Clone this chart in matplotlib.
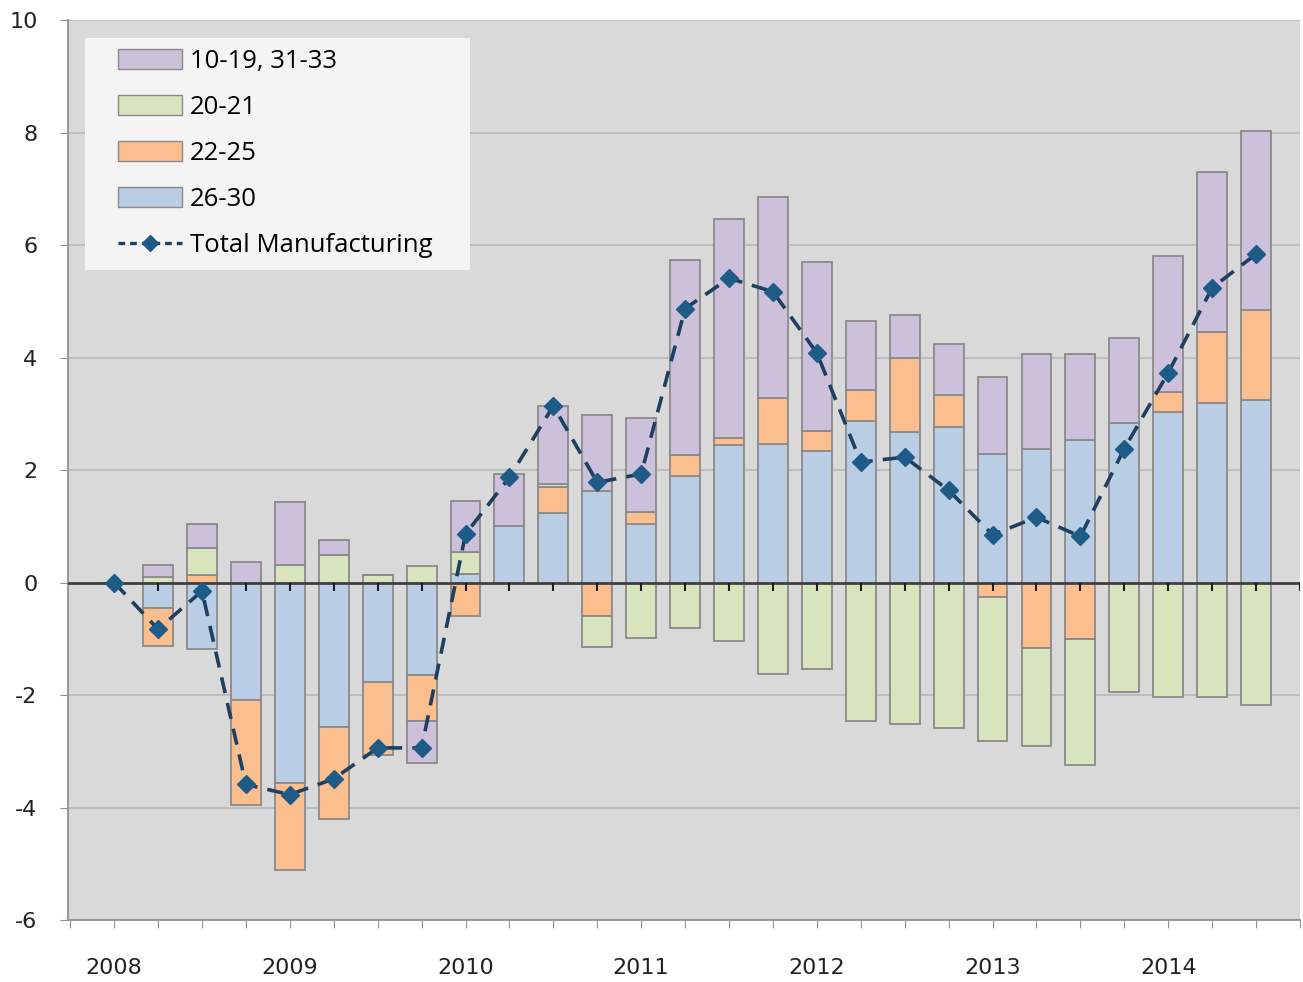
import numpy as np
import matplotlib.pyplot as plt
from matplotlib.patches import Patch, Rectangle
from matplotlib.lines import Line2D

plt.rcParams['axes.unicode_minus'] = False

# quarterly contributions, 2008Q1 .. 2014Q3
years = ['2008', '2009', '2010', '2011', '2012', '2013', '2014']
s26_30 = [0, -0.45, -1.19, -2.08, -3.56, -2.56, -1.76, -1.65, 0.15, 1.01, 1.24, 1.63, 1.04, 1.90,
          2.44, 2.46, 2.33, 2.88, 2.68, 2.77, 2.29, 2.38, 2.53, 2.84, 3.03, 3.20, 3.24]
s22_25 = [0, -0.67, 0.13, -1.87, -1.55, -1.65, -1.30, -0.81, -0.59, 0, 0.45, -0.59, 0.21, 0.36,
          0.13, 0.82, 0.36, 0.54, 1.32, 0.56, -0.25, -1.16, -1.00, 0, 0.35, 1.26, 1.60]
s20_21 = [0, 0.10, 0.48, 0, 0.31, 0.49, 0.13, 0.29, 0.39, 0, 0.06, -0.56, -0.98, -0.80,
          -1.04, -1.63, -1.54, -2.46, -2.51, -2.58, -2.57, -1.74, -2.25, -1.94, -2.03, -2.03, -2.17]
s10_19 = [0, 0.21, 0.43, 0.37, 1.13, 0.27, 0, -0.74, 0.91, 0.92, 1.39, 1.35, 1.67, 3.47,
          3.89, 3.58, 3.00, 1.23, 0.75, 0.91, 1.37, 1.69, 1.54, 1.51, 2.43, 2.84, 3.19]
total = [0, -0.83, -0.15, -3.59, -3.77, -3.49, -2.94, -2.94, 0.86, 1.87, 3.14, 1.78, 1.93, 4.87,
         5.41, 5.17, 4.08, 2.14, 2.23, 1.64, 0.85, 1.16, 0.82, 2.38, 3.73, 5.24, 5.84]

series = [('26-30', s26_30, '#b9cde5'),
          ('22-25', s22_25, '#fbbf8f'),
          ('20-21', s20_21, '#d7e4bd'),
          ('10-19, 31-33', s10_19, '#ccc0da')]

n = len(total)
x = np.arange(n)

fig = plt.figure(figsize=(13.03, 9.82), dpi=100)
ax = fig.add_axes([0.0522, 0.0631, 0.9455, 0.9165])
ax.set_facecolor('#d9d9d9')

pos = np.zeros(n)
neg = np.zeros(n)
for name, vals, col in series:
    v = np.array(vals, dtype=float)
    bottom = np.where(v >= 0, pos, neg)
    ax.bar(x, v, 0.68, bottom=bottom, color=col, edgecolor='#8a8a8a', linewidth=1.3, zorder=2)
    pos += np.where(v >= 0, v, 0)
    neg += np.where(v < 0, v, 0)

# zero axis with ticks at each category
ax.axhline(0, color='#404040', lw=2.0, zorder=3)
ax.vlines(np.arange(0, n + 1), -0.15, 0, color='#202020', lw=1.5, zorder=3)

ax.plot(x, total, color='#1f3f60', lw=2.6, ls=(0, (4.5, 2.8)), marker='D', markersize=9,
        markerfacecolor='#1f5b87', markeredgecolor='#1f5b87', zorder=4)

ax.set_ylim(-6, 10)
ax.set_xlim(-1.05, 27.0)
ax.set_yticks(range(-6, 11, 2))
ax.yaxis.grid(True, color='#b8b8b8', lw=1.2)
ax.set_axisbelow(True)

major = np.arange(-1, 28)
labels = ['' for _ in major]
for i, yr in enumerate(years):
    labels[1 + 4 * i] = yr
ax.set_xticks(major)
ax.set_xticklabels(labels)
ax.tick_params(axis='x', length=6, color='#909090', direction='out', pad=21, labelsize=16,
               labelcolor='#222222')
ax.tick_params(axis='y', length=6, color='#909090', labelsize=16, pad=16, labelcolor='#222222')
for s in ['top', 'right']:
    ax.spines[s].set_visible(False)
for s in ['left', 'bottom']:
    ax.spines[s].set_color('#909090')
    ax.spines[s].set_linewidth(1.3)

# legend background box
ax.add_patch(Rectangle((0.0138, 0.7222), 0.3125, 0.2578, transform=ax.transAxes,
                       facecolor='#f4f4f4', edgecolor='none', zorder=5))

handles = [Patch(facecolor='#ccc0da', edgecolor='#8a8a8a', label='10-19, 31-33'),
           Patch(facecolor='#d7e4bd', edgecolor='#8a8a8a', label='20-21'),
           Patch(facecolor='#fbbf8f', edgecolor='#8a8a8a', label='22-25'),
           Patch(facecolor='#b9cde5', edgecolor='#8a8a8a', label='26-30'),
           Line2D([], [], color='#1f3f60', lw=2.4, ls=(0, (2, 1.5)), marker='D', markersize=8,
                  markerfacecolor='#1f5b87', markeredgecolor='#1f5b87', label='Total Manufacturing')]
leg = ax.legend(handles=handles, loc='upper left', bbox_to_anchor=(0.0406, 0.968),
                prop={'family': 'Open Sans', 'size': 18.5}, frameon=False, handlelength=2.5,
                handleheight=0.8, handletextpad=0.3, labelspacing=0.82, borderpad=0,
                borderaxespad=0)
leg.set_zorder(6)

fig.savefig('out.png', dpi=100, facecolor='white')
